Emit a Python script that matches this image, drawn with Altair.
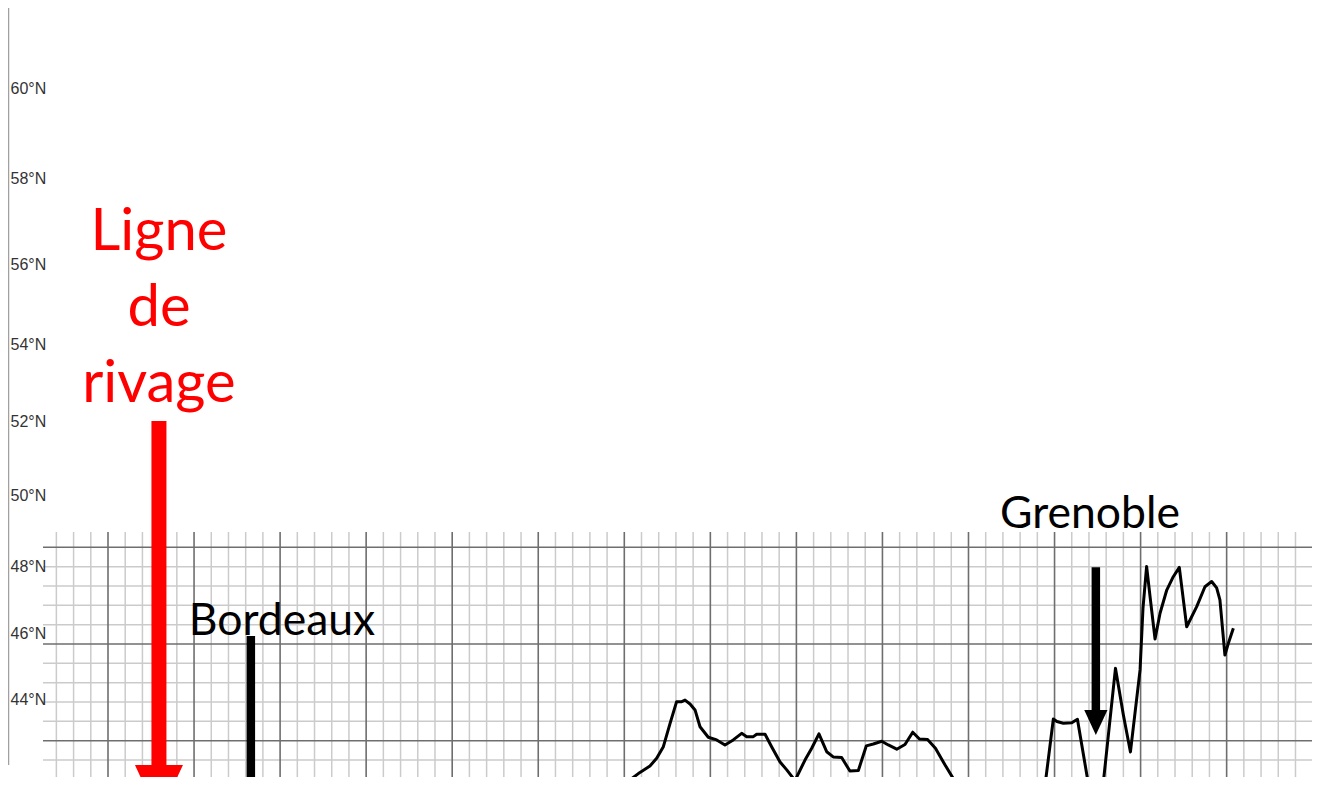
import altair as alt
import pandas as pd

# ---------------- data (distance along section in km, altitude in m) -------------
profile_km = [335.9, 349.4, 355.2, 359.1, 364.9, 368.8, 372.7, 376.6, 380.4, 383.4,
              385.3, 388.2, 391.1, 394.0, 398.8, 403.7, 408.5, 413.3, 418.2, 421.1,
              425.0, 426.9, 431.8, 435.6, 440.5, 444.4, 449.2, 455.0, 458.9, 463.1,
              467.6, 471.4, 476.3, 481.1, 486.0, 490.6, 494.7, 499.6, 503.4, 508.3,
              513.1, 517.6, 521.5, 526.2, 530.8, 536.4, 543.1, 550.9, 568.3, 582.8,
              590.4, 594.5, 599.3, 601.4, 605.1, 610.0, 613.3, 619.6, 623.8, 628.3,
              635.4, 640.0, 644.1, 649.7, 651.4, 653.5, 655.5, 658.4, 661.3, 665.2,
              669.0, 672.5, 676.8, 682.6, 687.4, 691.3, 694.2, 696.1, 699.0, 701.0,
              703.9]
profile_alt = [670, 770, 810, 836, 869, 909, 969, 1090, 1202, 1202,
               1210, 1190, 1159, 1072, 1018, 1004, 978, 1004, 1038, 1021,
               1021, 1033, 1033, 969, 890, 849, 794, 900, 961, 1035,
               943, 916, 913, 843, 846, 973, 983, 997, 978, 956,
               980, 1044, 1009, 1006, 961, 874, 776, 590, 383, 357,
               538, 771, 1112, 1099, 1090, 1093, 1111, 780, 487, 780,
               1374, 1133, 942, 1366, 1686, 1901, 1745, 1526, 1659, 1779,
               1848, 1896, 1589, 1693, 1796, 1823, 1790, 1728, 1443, 1504,
               1581]
assert len(profile_km) == len(profile_alt)

# latitude labels of the map on the left
lat_ticks = [60, 58, 56, 54, 52, 50, 48, 46, 44]

# coastline annotation
coast_label = ["Ligne", "de", "rivage"]
coast_km = [79.6]
coast_label_alt = [3537]
coast_top_alt = [2653]
coast_base_alt = [859]
coast_head_alt = [741]

# city annotations
cities = ["Bordeaux", "Grenoble"]
city_km = [133.0, 624.0]
city_label_km = [151.1, 620.6]
city_label_alt = [1549, 2098]
city_top_alt = [1541, 1897]
city_base_alt = [781, 1143]
city_head_alt = [732, 1094]

# graph-paper grid (10 km / 100 m squares, bold every 50 km / 500 m)
grid_km_minor = [v for v in range(20, 750, 10) if v % 50]
grid_km_major = [v for v in range(50, 750, 50)]
grid_alt_minor = [v for v in range(900, 2100, 100) if v % 500]
grid_alt_major = [1000, 1500, 2000]

X_DOMAIN = [12.23, 749.6]
Y_DOMAIN = [812.3, 2079.1]
MERC_DOMAIN = [0.7989, 0.9835]

xs = alt.Scale(domain=X_DOMAIN, nice=False, zero=False)
ys = alt.Scale(domain=Y_DOMAIN, nice=False, zero=False)

MINOR = "#cbcbcb"
MAJOR = "#6e6e6e"

gx_minor = alt.Chart(pd.DataFrame({"km": grid_km_minor})).mark_rule(
    color=MINOR, strokeWidth=1.5).encode(x=alt.X("km:Q", scale=xs, axis=None))
gy_minor = alt.Chart(pd.DataFrame({"alt": grid_alt_minor})).mark_rule(
    color=MINOR, strokeWidth=1.5).encode(y=alt.Y("alt:Q", scale=ys, axis=None))
gx_major = alt.Chart(pd.DataFrame({"km": grid_km_major})).mark_rule(
    color=MAJOR, strokeWidth=1.6).encode(x=alt.X("km:Q", scale=xs, axis=None))
gy_major = alt.Chart(pd.DataFrame({"alt": grid_alt_major})).mark_rule(
    color=MAJOR, strokeWidth=1.6).encode(y=alt.Y("alt:Q", scale=ys, axis=None))

prof_df = pd.DataFrame({"km": profile_km, "alt": profile_alt,
                        "i": list(range(len(profile_km)))})
profile = alt.Chart(prof_df).mark_line(
    color="black", strokeWidth=3, clip=True, strokeJoin="round").encode(
    x=alt.X("km:Q", scale=xs, axis=None),
    y=alt.Y("alt:Q", scale=ys, axis=None),
    order="i:Q")

# left map border + latitude labels
border = alt.Chart(pd.DataFrame({"d": [0]})).mark_rule(
    color="#a0a0a0", strokeWidth=1.5).encode(
    x=alt.value(-34.5), y=alt.value(-524), y2=alt.value(233))

lat_df = pd.DataFrame({"lat": lat_ticks})
lat_labels = alt.Chart(lat_df).transform_calculate(
    merc="log(tan(PI/4 + datum.lat*PI/360))",
    label="datum.lat + '°N'").mark_text(
    align="left", baseline="middle", font="Liberation Sans", fontSize=16,
    color="#333333").encode(
    x=alt.value(-32.5),
    y=alt.Y("merc:Q", scale=alt.Scale(domain=MERC_DOMAIN, nice=False, zero=False),
            axis=None),
    text="label:N")

HEAD = "M-0.93,-1L0.93,-1L0,1Z"

coast_df = pd.DataFrame({"km": coast_km, "top": coast_top_alt, "base": coast_base_alt,
                         "head": coast_head_alt, "ly": coast_label_alt,
                         "label": ["\n".join(coast_label)]})
coast_shaft = alt.Chart(coast_df).mark_rule(
    color="#ff0000", strokeWidth=15, strokeCap="butt").encode(
    x=alt.X("km:Q", scale=xs, axis=None),
    y=alt.Y("top:Q", scale=ys, axis=None), y2="base:Q")
coast_head = alt.Chart(coast_df).mark_point(
    shape=HEAD, filled=True, size=2663, color="#ff0000", opacity=1,
    strokeWidth=0).encode(
    x=alt.X("km:Q", scale=xs, axis=None),
    y=alt.Y("head:Q", scale=ys, axis=None))
coast_text = alt.Chart(coast_df).mark_text(
    font="Lato", fontSize=58, color="#ff0000", align="center",
    baseline="alphabetic", lineBreak="\n", lineHeight=76).encode(
    x=alt.X("km:Q", scale=xs, axis=None),
    y=alt.Y("ly:Q", scale=ys, axis=None),
    text="label:N")

city_df = pd.DataFrame({"city": cities, "km": city_km, "lkm": city_label_km,
                        "ly": city_label_alt, "top": city_top_alt,
                        "base": city_base_alt, "head": city_head_alt})
city_shaft = alt.Chart(city_df).mark_rule(
    color="black", strokeWidth=8.5, strokeCap="butt").encode(
    x=alt.X("km:Q", scale=xs, axis=None),
    y=alt.Y("top:Q", scale=ys, axis=None), y2="base:Q")
city_head = alt.Chart(city_df).mark_point(
    shape=HEAD, filled=True, size=625, color="black", opacity=1,
    strokeWidth=0, clip=True).encode(
    x=alt.X("km:Q", scale=xs, axis=None),
    y=alt.Y("head:Q", scale=ys, axis=None))
city_text = alt.Chart(city_df).mark_text(
    font="Lato", fontSize=44.5, color="black", align="center",
    baseline="alphabetic").encode(
    x=alt.X("lkm:Q", scale=xs, axis=None),
    y=alt.Y("ly:Q", scale=ys, axis=None),
    text="city:N")

chart = alt.layer(
    gx_minor, gy_minor, gx_major, gy_major, profile,
    border, lat_labels,
    coast_shaft, coast_head, coast_text,
    city_shaft, city_head, city_text,
).resolve_scale(y="independent").properties(
    width=1269, height=245,
    padding={"left": 35, "top": 524, "right": 0, "bottom": 0},
    autosize=alt.AutoSizeParams(type="none"),
    background="white",
).configure_view(strokeWidth=0)

chart.save("out.html", embed_options={"renderer": "svg", "actions": False})
